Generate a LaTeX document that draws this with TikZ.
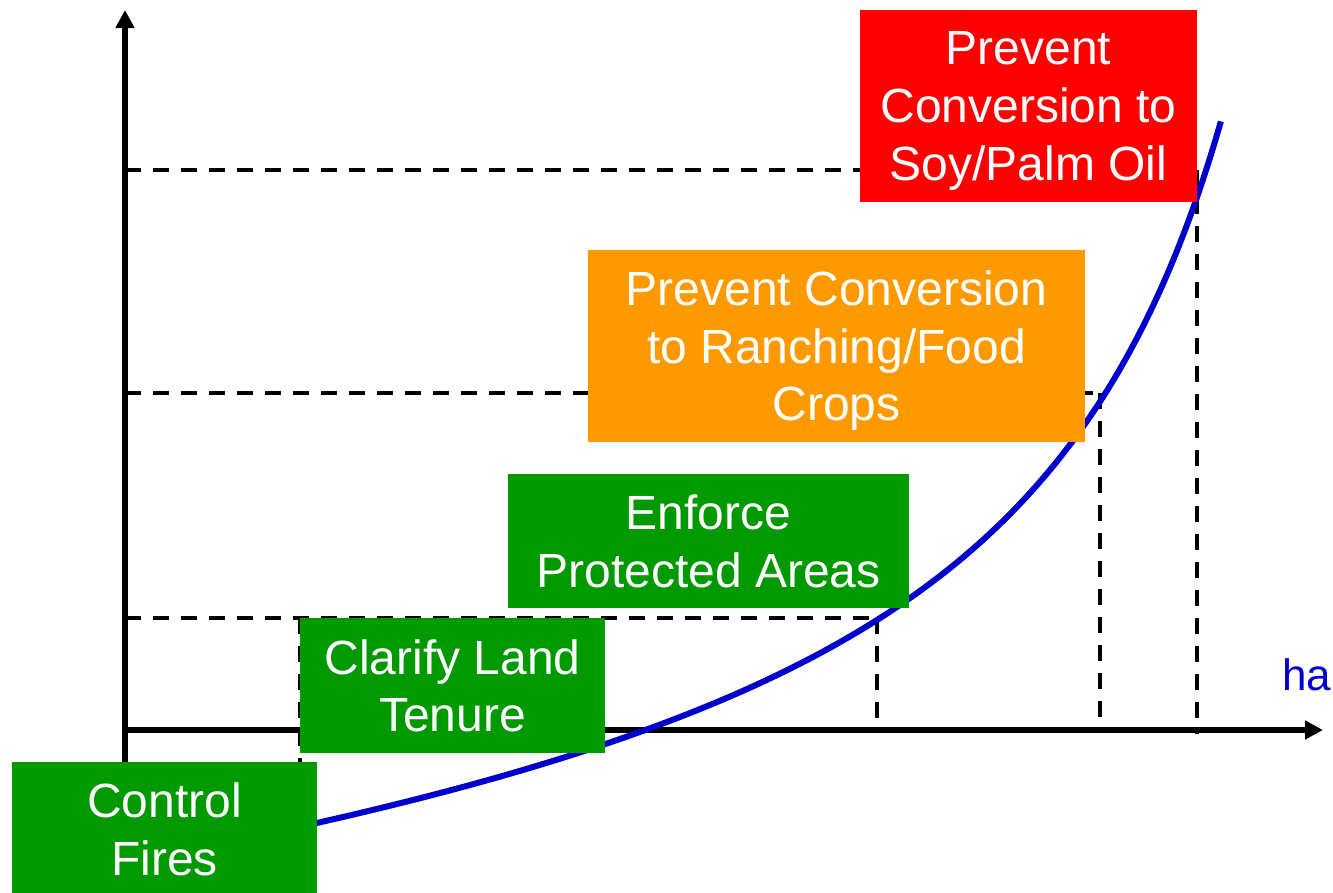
\documentclass[tikz,border=0pt]{standalone}
\usepackage{fontspec}
\setmainfont{Liberation Sans}
\usetikzlibrary{arrows.meta}
\definecolor{boxgreen}{HTML}{009900}
\definecolor{boxorange}{HTML}{FF9900}
\definecolor{boxred}{HTML}{FF0000}
\definecolor{curveblue}{HTML}{0000CC}
\begin{document}
\begin{tikzpicture}[x=1pt,y=-1pt,
  box/.style={inner sep=0pt, align=center, text=white, text depth=-4pt, font=\fontsize{48}{57.6}\selectfont},
  guide/.style={line width=3.5pt, dash pattern=on 16pt off 12pt},
  axisline/.style={line width=5.5pt, -{Triangle[length=18pt,width=18pt]}},
  costcurve/.style={line width=6pt, draw=curveblue}]
\useasboundingbox (0,0) rectangle (1333,892);
% coordinates
\coordinate (O) at (125,730);
\coordinate (yTop) at (125,10);
\coordinate (yBot) at (125,790);
\coordinate (xEnd) at (1323,730);
\coordinate (yA) at (125,170);
\coordinate (yB) at (125,393);
\coordinate (yC) at (125,618);
\coordinate (pA) at (1197,170);
\coordinate (pB) at (1100,393);
\coordinate (pC) at (877,618);
\coordinate (pD) at (300,618);
\coordinate (fA) at (1197,734);
\coordinate (fB) at (1100,720);
\coordinate (fC) at (877,720);
\coordinate (fD) at (300,775);
% dashed guides
\draw[guide] (yA) -- (pA);
\draw[guide] (yB) -- (pB);
\draw[guide] (yC) -- (pC);
\draw[guide] (pA) -- (fA);
\draw[guide] (pB) -- (fB);
\draw[guide] (pC) -- (fC);
\draw[guide] (pD) -- (fD);
% axes
\draw[axisline] (yBot) -- (yTop);
\draw[axisline] (O) -- (xEnd);
% curve
\draw[costcurve] plot[domain=2.8:12.21, samples=160, variable=\t] ({100*\t}, {1008.4 - 1789.5/(14.5-\t) - 8.68*\t});
% boxes
\node[box, fill=boxgreen, minimum width=305pt, minimum height=134pt] (fires) at (164.5,829) {Control\\Fires};
\node[box, fill=boxgreen, minimum width=305pt, minimum height=135pt] (tenure) at (452.5,685.5) {Clarify Land\\Tenure};
\node[box, fill=boxgreen, minimum width=401pt, minimum height=134pt] (protect) at (708.5,541) {Enforce\\Protected Areas};
\node[box, fill=boxorange, minimum width=497pt, minimum height=192pt] (ranch) at (836.5,346) {Prevent Conversion\\to Ranching/Food\\Crops};
\node[box, fill=boxred, minimum width=337pt, minimum height=192pt] (soy) at (1028.5,106) {Prevent\\Conversion to\\Soy/Palm Oil};
\node[anchor=base west, inner sep=0pt, text=curveblue, font=\fontsize{44}{52}\selectfont] (ha) at (1282,690) {ha};
\end{tikzpicture}
\end{document}
